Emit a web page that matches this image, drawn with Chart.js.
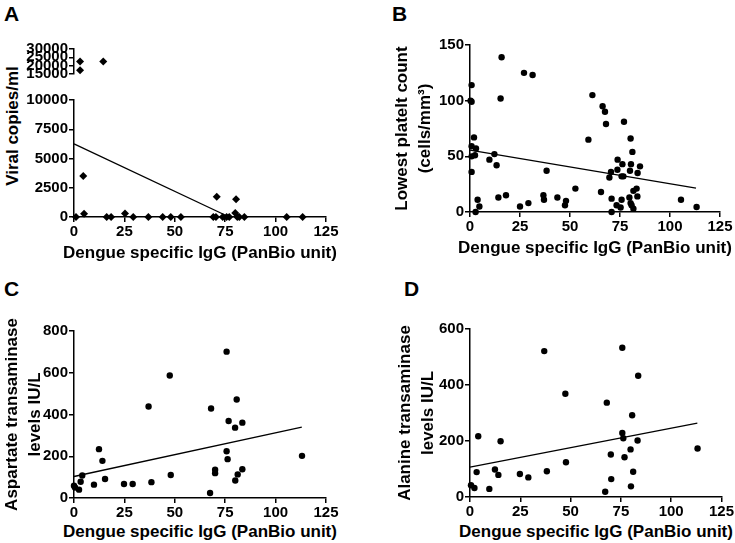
<!DOCTYPE html>
<html>
<head>
<meta charset="utf-8">
<title>Dengue specific IgG correlations</title>
<script src="https://cdn.jsdelivr.net/npm/chart.js@4.4.1/dist/chart.umd.min.js"></script>
<style>
  html, body { margin: 0; padding: 0; background: #fff; }
  #fig { position: relative; width: 735px; height: 543px; overflow: hidden;
         font-family: "Liberation Sans", Arial, Helvetica, sans-serif; color: #000; }
  #fig canvas { position: absolute; }
  .tag { position: absolute; font-weight: bold; font-size: 21px; line-height: 21px; }
  .xt { position: absolute; width: 320px; height: 20px; line-height: 20px; text-align: center;
        font-weight: bold; font-size: 17px; white-space: nowrap; }
  #viralTitle { position: absolute; width: 200px; height: 20px; line-height: 20px; left: -87px; top: 116px;
                text-align: center; font-weight: bold; font-size: 17px; transform: rotate(-90deg); }
</style>
</head>
<body>
<div id="fig">
  <div class="tag" style="left:4px;top:3px">A</div>
  <div class="tag" style="left:392px;top:3px">B</div>
  <div class="tag" style="left:4px;top:278px">C</div>
  <div class="tag" style="left:404px;top:278px">D</div>
  <div id="viralTitle">Viral copies/ml</div>
  <canvas id="aTop"></canvas>
  <canvas id="aLow"></canvas>
  <canvas id="bChart"></canvas>
  <canvas id="cChart"></canvas>
  <canvas id="dChart"></canvas>
  <div class="xt" style="left:40px;top:243px">Dengue specific IgG (PanBio unit)</div>
  <div class="xt" style="left:435px;top:238px">Dengue specific IgG (PanBio unit)</div>
  <div class="xt" style="left:40px;top:522px">Dengue specific IgG (PanBio unit)</div>
  <div class="xt" style="left:436px;top:522px">Dengue specific IgG (PanBio unit)</div>
</div>
<script>
// ---- data ----
const iggTicks = [0, 25, 50, 75, 100, 125];

// A: viral copies/ml
const viralIgG  = [3, 3, 14.5, 4.6, 5, 25.3, 70.8, 80.4, 80, 1, 16.2, 18.4, 29.4, 36.9, 44, 48, 53,
                   69.1, 70.4, 73.8, 75.7, 77, 81, 82, 84.5, 105.5, 113.4];
const viralLoad = [22500, 17200, 22500, 3500, 280, 300, 1735, 1510, 350, 0, 0, 0, 0, 0, 0, 0, 0,
                   0, 0, 0, 0, 0, 0, 0, 0, 0, 0];
const viralFitX = [0, 77];
const viralFitY = [6250, 0];

// B: lowest platelet count
const plateletIgG = [0.8, 0.3, 0.8, 2, 0.8, 3, 0.8, 2.5, 0.8, 3.8, 2.8, 4.7, 9.7, 12.2, 13.3, 14.2, 15.8, 15.3, 18,
                     25, 27, 29.2, 31.3, 38.3, 36.7, 37, 43.7, 48, 47.5, 52.7, 59.2, 61.2, 66.3, 67.5, 68, 65.5,
                     69.7, 70.5, 70.8, 70.8, 73.8, 73.7, 73.3, 75.3, 76.2, 75.8, 76.7, 75.8, 77, 80.3, 81.2,
                     80.5, 80, 79.7, 80.3, 80.8, 81.7, 81.7, 83.3, 83.8, 83.7, 85, 105.5, 113.3];
const plateletCount = [114, 100, 99, 67, 59, 57, 50, 51, 36, 11, 0, 5, 47, 52, 42, 13, 139, 102, 15,
                       5, 125, 8, 123, 37, 15, 11, 13, 10, 6, 21, 65, 105, 95, 90, 79, 18,
                       31, 36, 12, 0, 47, 38, 6, 4, 43, 32, 32, 11, 81, 66, 54,
                       43, 37, 13, 8, 6, 3, 19, 21, 35, 14, 41, 11, 4.5];
const plateletFitX = [0, 113];
const plateletFitY = [55.5, 21.5];

// C: aspartate transaminase
const astIgG   = [0, 0.5, 2.5, 3.3, 4.1, 9.9, 12.4, 14.1, 15.4, 24.8, 29.1, 38.4, 37, 48, 47.5, 67.5, 68,
                  70, 70, 75.7, 75.7, 76.2, 76.7, 79.9, 80.7, 80, 81.2, 83.5, 83.5, 113.1];
const astLevel = [59, 50, 40, 78, 108, 64, 234, 178, 91, 67, 67, 76, 438, 110, 587, 24, 429,
                  135, 119, 701, 224, 186, 369, 337, 472, 84, 113, 361, 138, 202];
const astFitX = [0, 113];
const astFitY = [103, 340];

// D: alanine transaminase
const altIgG   = [0.5, 2.2, 3.3, 4.1, 9.6, 12.4, 14.1, 15.2, 24.8, 29, 38.2, 36.9, 47.7, 47.4, 67.2, 68,
                  70.2, 70, 75.7, 75.7, 76.2, 76.8, 79.8, 80, 80.6, 81.1, 83.3, 83.6, 113.1];
const altLevel = [42, 32, 89, 217, 29, 98, 79, 199, 82, 70, 92, 521, 124, 369, 19, 337,
                  64, 152, 533, 229, 210, 142, 170, 38, 292, 90, 202, 433, 173];
const altFitX = [0, 113];
const altFitY = [107, 264];

// ---- helpers ----
const FONT = '"Liberation Sans", Arial, Helvetica, sans-serif';
const INK = '#000';
const tickFont = { family: FONT, size: 15, weight: 'bold', lineHeight: 1.2 };

const pairs = (xs, ys) => xs.map((x, i) => ({ x: x, y: ys[i] }));

function dots(points, style, r) {
  return { data: points, pointStyle: style, pointRadius: r, pointHoverRadius: r,
           backgroundColor: INK, borderColor: INK, borderWidth: 0, showLine: false, clip: false };
}
function fitLine(xs, ys) {
  return { data: pairs(xs, ys), showLine: true, pointRadius: 0, pointHoverRadius: 0,
           borderColor: INK, borderWidth: 1.3, fill: false, clip: false };
}

// box: canvas rect on the page, area: plot rect on the page
function panel(id, box, area, y, datasets, showX) {
  const cv = document.getElementById(id);
  cv.width = box.w; cv.height = box.h;
  cv.style.left = box.x + 'px'; cv.style.top = box.y + 'px';
  const yWidth = area.left - box.x;
  const xHeight = box.y + box.h - area.bottom;
  return new Chart(cv, {
    type: 'scatter',
    data: { datasets: datasets },
    options: {
      responsive: false, animation: false, devicePixelRatio: 1,
      layout: { padding: { top: area.top - box.y, right: box.x + box.w - area.right,
                           left: 0, bottom: showX ? 0 : xHeight } },
      plugins: { legend: { display: false }, tooltip: { enabled: false } },
      scales: {
        x: {
          type: 'linear', display: showX, min: iggTicks[0], max: iggTicks[iggTicks.length - 1],
          afterBuildTicks: s => { s.ticks = iggTicks.map(v => ({ value: v })); },
          ticks: { color: INK, font: tickFont, padding: 1, maxRotation: 0, autoSkip: false,
                   callback: v => String(v) },
          grid: { drawOnChartArea: false, tickLength: 5, color: INK, lineWidth: 1.5 },
          border: { color: INK, width: 1.5 },
          afterFit: s => { s.height = xHeight; }
        },
        y: {
          type: 'linear', min: y.ticks[0], max: y.ticks[y.ticks.length - 1],
          afterBuildTicks: s => { s.ticks = y.ticks.map(v => ({ value: v })); },
          ticks: { color: INK, font: tickFont, padding: 1, autoSkip: false, callback: v => String(v) },
          grid: { drawOnChartArea: false, tickLength: 5, color: INK, lineWidth: 1.5 },
          border: { color: INK, width: 1.5 },
          title: { display: !!y.title, text: y.title || '', color: INK,
                   padding: { top: y.titlePad || 0, bottom: 0 },
                   font: { family: FONT, size: 17, weight: 'bold', lineHeight: 1.35 } },
          afterFit: s => { s.width = yWidth; }
        }
      }
    }
  });
}

// ---- A: broken y axis, two stacked charts ----
const viralPts = pairs(viralIgG, viralLoad);
panel('aTop', { x: 0, y: 30, w: 367, h: 72 }, { left: 74, top: 49, right: 326, bottom: 88 },
      { ticks: [15000, 20000, 25000, 30000] },
      [dots(viralPts.filter(p => p.y > 10000), 'rectRot', 4)], false);
panel('aLow', { x: 0, y: 90, w: 367, h: 150 }, { left: 74, top: 100, right: 326, bottom: 217 },
      { ticks: [0, 2500, 5000, 7500, 10000] },
      [dots(viralPts.filter(p => p.y <= 10000), 'rectRot', 4), fitLine(viralFitX, viralFitY)], true);

// ---- B ----
panel('bChart', { x: 368, y: 20, w: 367, h: 220 }, { left: 470, top: 45, right: 720, bottom: 212 },
      { ticks: [0, 50, 100, 150], title: ['Lowest platelt count', '(cells/mm\u00b3)'], titlePad: 22.5 },
      [dots(pairs(plateletIgG, plateletCount), 'circle', 3.2), fitLine(plateletFitX, plateletFitY)], true);

// ---- C ----
panel('cChart', { x: 0, y: 290, w: 367, h: 230 }, { left: 74, top: 331, right: 326, bottom: 498 },
      { ticks: [0, 200, 400, 600, 800], title: ['Aspartate transaminase', 'levels IU/L'], titlePad: 0.5 },
      [dots(pairs(astIgG, astLevel), 'circle', 3.2), fitLine(astFitX, astFitY)], true);

// ---- D ----
panel('dChart', { x: 368, y: 290, w: 367, h: 230 }, { left: 470, top: 329, right: 722, bottom: 497 },
      { ticks: [0, 200, 400, 600], title: ['Alanine transaminase', 'levels IU/L'], titlePad: 25.5 },
      [dots(pairs(altIgG, altLevel), 'circle', 3.2), fitLine(altFitX, altFitY)], true);
</script>
</body>
</html>
